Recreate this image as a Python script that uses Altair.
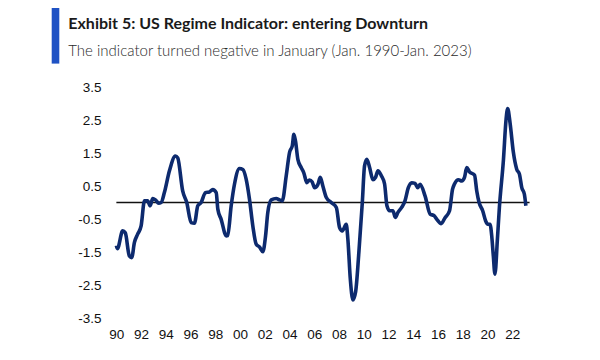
import altair as alt
import pandas as pd

# Decimal year and indicator value
years = [
    1990.00, 1990.08, 1990.51, 1990.72, 1991.05, 1991.24, 1991.46, 1991.72,
    1992.00, 1992.27, 1992.53, 1992.73, 1992.94, 1993.16, 1993.42, 1993.62,
    1993.88, 1994.29, 1994.77, 1994.96, 1995.36, 1995.69, 1996.04, 1996.31,
    1996.58, 1996.85, 1997.20, 1997.52, 1997.79, 1998.07, 1998.20, 1998.47,
    1998.88, 1999.00, 1999.28, 1999.55, 1999.95, 2000.22, 2000.49, 2000.76,
    2001.03, 2001.30, 2001.57, 2001.84, 2002.06, 2002.24, 2002.52, 2002.92,
    2003.19, 2003.41, 2003.73, 2004.00, 2004.22, 2004.35, 2004.48, 2004.67,
    2004.94, 2005.15, 2005.40, 2005.61, 2005.83, 2006.02, 2006.29, 2006.48,
    2006.69, 2006.97, 2007.37, 2007.78, 2008.04, 2008.26, 2008.58, 2008.71,
    2008.91, 2009.12, 2009.34, 2009.60, 2009.88, 2010.06, 2010.25, 2010.47,
    2010.74, 2010.95, 2011.14, 2011.42, 2011.68, 2011.87, 2012.09, 2012.35,
    2012.55, 2012.76, 2013.06, 2013.33, 2013.60, 2013.87, 2014.14, 2014.36,
    2014.55, 2014.95, 2015.36, 2015.68, 2015.90, 2016.25, 2016.57, 2016.93,
    2017.17, 2017.33, 2017.65, 2017.92, 2018.14, 2018.32, 2018.54, 2018.95,
    2019.13, 2019.32, 2019.61, 2019.85, 2020.02, 2020.20, 2020.34, 2020.47,
    2020.60, 2020.80, 2020.96, 2021.29, 2021.50, 2021.63, 2021.82, 2022.09,
    2022.36, 2022.58, 2022.77, 2022.98, 2023.10,
]
values = [
    -1.31, -1.40, -0.86, -0.92, -1.62, -1.67, -1.21, -0.96,
    -0.71, 0.05, 0.05, -0.10, 0.12, 0.08, -0.02, 0.00,
    0.30, 0.96, 1.41, 1.35, 0.35, 0.00, -0.61, -0.63,
    -0.10, 0.00, 0.30, 0.32, 0.39, 0.30, -0.20, -0.51,
    -1.01, -1.00, -0.10, 0.56, 1.03, 1.00, 0.71, 0.10,
    -0.71, -1.26, -1.35, -1.49, -1.01, -0.30, 0.08, 0.12,
    0.08, 0.05, 0.81, 1.52, 1.72, 2.07, 1.86, 1.31,
    1.06, 0.90, 0.60, 0.68, 0.62, 0.45, 0.55, 0.76,
    0.50, 0.15, 0.00, -0.15, -0.76, -0.86, -0.66, -1.10,
    -2.32, -2.95, -2.70, -1.52, 0.00, 1.11, 1.31, 1.06,
    0.69, 0.76, 0.96, 0.81, 0.56, -0.10, -0.25, -0.25,
    -0.45, -0.30, -0.15, 0.05, 0.45, 0.60, 0.58, 0.45,
    0.55, 0.20, -0.35, -0.40, -0.51, -0.64, -0.46, -0.25,
    0.40, 0.56, 0.69, 0.65, 0.76, 1.06, 0.93, 0.83,
    0.35, 0.00, -0.25, -0.56, -0.66, -0.66, -1.01, -1.62,
    -2.17, -1.11, -0.15, 1.31, 2.52, 2.85, 2.42, 1.52,
    1.01, 0.86, 0.45, 0.25, -0.10,
]

x_ticks = list(range(1990, 2023, 2))
y_ticks = [-3.5, -2.5, -1.5, -0.5, 0.5, 1.5, 2.5, 3.5]
zero_span = [1990.0, 2023.4]

title_text = "Exhibit 5: US Regime Indicator: entering Downturn"
subtitle_text = "The indicator turned negative in January (Jan. 1990-Jan. 2023)"

df = pd.DataFrame({"year": years, "value": values})
zero_df = pd.DataFrame({"year": [zero_span[0]], "year2": [zero_span[1]], "value": [0.0]})
one = pd.DataFrame({"k": [0]})

LABEL_FONT = "Liberation Sans, Arial, sans-serif"

x_scale = alt.Scale(domain=[1989, 2024], nice=False, zero=False)
y_scale = alt.Scale(domain=[-3.5, 3.5], nice=False, zero=False)

x_axis = alt.Axis(
    values=x_ticks, labelExpr="slice(toString(datum.value), 2)",
    domain=False, ticks=False, tickSize=0, grid=False,
    labelPadding=9, labelFontSize=13.5, labelFont=LABEL_FONT,
    labelColor="#111", labelFlush=False, labelOverlap=False,
)
y_axis = alt.Axis(
    values=y_ticks,
    labelExpr="replace(format(datum.value, '.1f'), '\u2212', '-')",
    domain=False, ticks=False, tickSize=0, grid=False,
    labelPadding=3, labelFontSize=13.5, labelFont=LABEL_FONT,
    labelColor="#111", labelFlush=False, labelOverlap=False,
)

line = alt.Chart(df).mark_line(
    color="#0d2a6e", strokeWidth=3.6, interpolate="monotone"
).encode(
    x=alt.X("year:Q", scale=x_scale, title=None, axis=x_axis),
    y=alt.Y("value:Q", scale=y_scale, title=None, axis=y_axis),
)

zero = alt.Chart(zero_df).mark_rule(color="#111", strokeWidth=1.3).encode(
    x=alt.X("year:Q", scale=x_scale, title=None, axis=x_axis),
    x2="year2:Q",
    y=alt.Y("value:Q", scale=y_scale, title=None, axis=y_axis),
)

bar = alt.Chart(one).mark_rule(color="#1f52c4", strokeWidth=7.6).encode(
    x=alt.value(-48.5), y=alt.value(-79.4), y2=alt.value(-23.4)
)

title = alt.Chart(one).mark_text(
    text=title_text, align="left", baseline="alphabetic",
    font="Lato, sans-serif", fontSize=16, fontWeight="bold", color="#1a1a1a",
).encode(x=alt.value(-35.7), y=alt.value(-58.4))

subtitle = alt.Chart(one).mark_text(
    text=subtitle_text, align="left", baseline="alphabetic",
    font="Lato, sans-serif", fontSize=15, fontWeight=300, color="#2a2a2a",
).encode(x=alt.value(-35.7), y=alt.value(-30.7))

chart = alt.layer(zero, line, bar, title, subtitle).properties(
    width=433,
    height=231,
    autosize=alt.AutoSizeParams(type="none"),
    padding={"left": 96, "top": 79, "right": 20, "bottom": 30},
).configure_view(stroke=None).configure_axis(labelOverlap=False)

chart.save("out.html", embed_options={"renderer": "svg", "actions": False})
